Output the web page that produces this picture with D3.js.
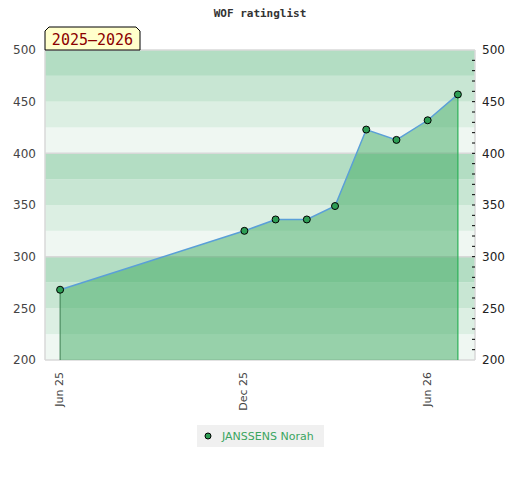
<!DOCTYPE html>
<html>
<head>
<meta charset="utf-8">
<script src="https://cdn.jsdelivr.net/npm/d3@7"></script>
<style>
  body { margin: 0; background: #fff; }
  svg { display: block; }
</style>
</head>
<body>
<div id="chart"></div>
<script>
const title = 'WOF ratinglist';
const seasonLabel = '2025–2026';
const playerName = 'JANSSENS Norah';
const dates = ['2025-06-01','2025-12-01','2026-01-01','2026-02-01','2026-03-01','2026-04-01','2026-05-01','2026-06-01','2026-07-01'];
const ratings = [268, 325, 336, 336, 349, 423, 413, 432, 457];
const xTicks = ['2025-06-01','2025-12-01','2026-06-01'];
const yTicks = [200, 250, 300, 350, 400, 450, 500];
const bandShades = ['#eff7f2','#dcefe3','#c8e6d3','#b3ddc3']; // bottom to top within each 100

const W = 520, H = 480;
const margin = { top: 50, right: 45, bottom: 120, left: 45 };
const parse = d3.utcParse('%Y-%m-%d');
const data = dates.map((d,i) => ({ date: parse(d), value: ratings[i] }));

const svg = d3.select('#chart').append('svg')
  .attr('width',W).attr('height',H);

const x = d3.scaleUtc()
  .domain([parse('2025-05-17'), parse('2026-07-18')])
  .range([margin.left, W - margin.right]);
const y = d3.scaleLinear()
  .domain([200,500])
  .range([H - margin.bottom, margin.top]);

// background bands, 25 wide
const bands = d3.range(200,500,25);
svg.append('g').selectAll('rect').data(bands).enter()
  .append('rect')
    .attr('x',x.range()[0])
    .attr('width',x.range()[1] - x.range()[0])
    .attr('y',d => y(d + 25))
    .attr('height',d => y(d) - y(d + 25))
    .attr('fill',d => bandShades[((d - 200) / 25) % 4]);

// gray grid every 100
svg.append('g').selectAll('line').data([200,300,400,500]).enter()
  .append('line')
    .attr('x1',x.range()[0]).attr('x2',x.range()[1])
    .attr('y1',d => y(d)).attr('y2',d => y(d))
    .attr('stroke','#d8d8d8').attr('stroke-width',1.5);
svg.append('line')
  .attr('x1',x.range()[0]).attr('x2',x.range()[0])
  .attr('y1',y(500)).attr('y2',y(200))
  .attr('stroke','#d8d8d8').attr('stroke-width',1.5);
svg.append('line')
  .attr('x1',x.range()[1]).attr('x2',x.range()[1])
  .attr('y1',y(500)).attr('y2',y(200))
  .attr('stroke','#d8d8d8').attr('stroke-width',1.5);

// area + line
const area = d3.area()
  .x(d => x(d.date)).y0(y(200)).y1(d => y(d.value));
const line = d3.line()
  .x(d => x(d.date)).y(d => y(d.value));

svg.append('path')
  .datum(data)
  .attr('d',area)
  .attr('fill','#35a55a')
  .attr('fill-opacity',0.47);

const first = data[0], last = data[data.length - 1];
svg.append('line')
  .attr('x1',x(first.date)).attr('x2',x(first.date))
  .attr('y1',y(first.value)).attr('y2',y(200))
  .attr('stroke','#3a7d50').attr('stroke-width',1);
svg.append('line')
  .attr('x1',x(last.date)).attr('x2',x(last.date))
  .attr('y1',y(last.value)).attr('y2',y(200))
  .attr('stroke','#2db158').attr('stroke-width',1.2);

svg.append('path')
  .datum(data)
  .attr('d',line)
  .attr('fill','none')
  .attr('stroke','#5a9fd8')
  .attr('stroke-width',1.5);

svg.append('g').selectAll('circle').data(data).enter()
  .append('circle')
    .attr('cx',d => x(d.date))
    .attr('cy',d => y(d.value))
    .attr('r',3.5)
    .attr('fill','#2e9e55')
    .attr('stroke','#000')
    .attr('stroke-width',1);

// left axis labels
svg.append('g').selectAll('text').data(yTicks).enter()
  .append('text')
    .attr('x',margin.left - 9)
    .attr('y',d => y(d))
    .attr('dy','0.35em')
    .attr('text-anchor','end')
    .attr('font-family','DejaVu Sans')
    .attr('font-size',12)
    .attr('fill','#444')
    .text(d => d);

// right axis with minor ticks
const right = svg.append('g');
right.selectAll('line').data(d3.range(210,500,10)).enter()
  .append('line')
    .attr('x1',x.range()[1] - 3).attr('x2',x.range()[1])
    .attr('y1',d => y(d)).attr('y2',d => y(d))
    .attr('stroke','#000').attr('stroke-width',1);
right.selectAll('text').data(yTicks).enter()
  .append('text')
    .attr('x',x.range()[1] + 7)
    .attr('y',d => y(d))
    .attr('dy','0.35em')
    .attr('font-family','DejaVu Sans')
    .attr('font-size',12)
    .attr('fill','#222')
    .text(d => d);

// x labels, rotated
const fmt = d3.utcFormat('%b %y');
svg.append('g').selectAll('text').data(xTicks.map(parse)).enter()
  .append('text')
    .attr('transform',d => `translate(${x(d) - 1},${y(200) + 12}) rotate(-90)`)
    .attr('dy','0.35em')
    .attr('text-anchor','end')
    .attr('font-family','DejaVu Sans')
    .attr('font-size',11)
    .attr('fill','#444')
    .text(d => fmt(d));

// title
svg.append('text')
  .attr('x',W / 2).attr('y',17)
  .attr('text-anchor','middle')
  .attr('font-family','DejaVu Sans Mono')
  .attr('font-weight','bold')
  .attr('font-size',11)
  .attr('fill','#333')
  .text(title);

// season label box with chamfered top corners
const bx = margin.left, bw = 95, by = 27, bh = y(500) - 27, c = 4;
svg.append('path')
  .attr('d',`M${bx},${by + bh} V${by + c} L${bx + c},${by} H${bx + bw - c} L${bx + bw},${by + c} V${by + bh} Z`)
  .attr('fill','#ffffcc')
  .attr('stroke','#000')
  .attr('stroke-width',1);
svg.append('text')
  .attr('x',bx + bw / 2).attr('y',by + bh - 5)
  .attr('text-anchor','middle')
  .attr('font-family','DejaVu Sans Mono')
  .attr('font-size',15)
  .attr('fill','#8b0000')
  .text(seasonLabel);

// legend
const lg = svg.append('g').attr('transform','translate(197,425)');
lg.append('rect')
  .attr('width',127).attr('height',22)
  .attr('fill','#f0f0f0');
lg.append('circle')
  .attr('cx',11).attr('cy',11).attr('r',3)
  .attr('fill','#2e9e55').attr('stroke','#000');
lg.append('text')
  .attr('x',25).attr('y',11).attr('dy','0.35em')
  .attr('font-family','DejaVu Sans')
  .attr('font-size',11)
  .attr('fill','#3aa55f')
  .text(playerName);
</script>
</body>
</html>
